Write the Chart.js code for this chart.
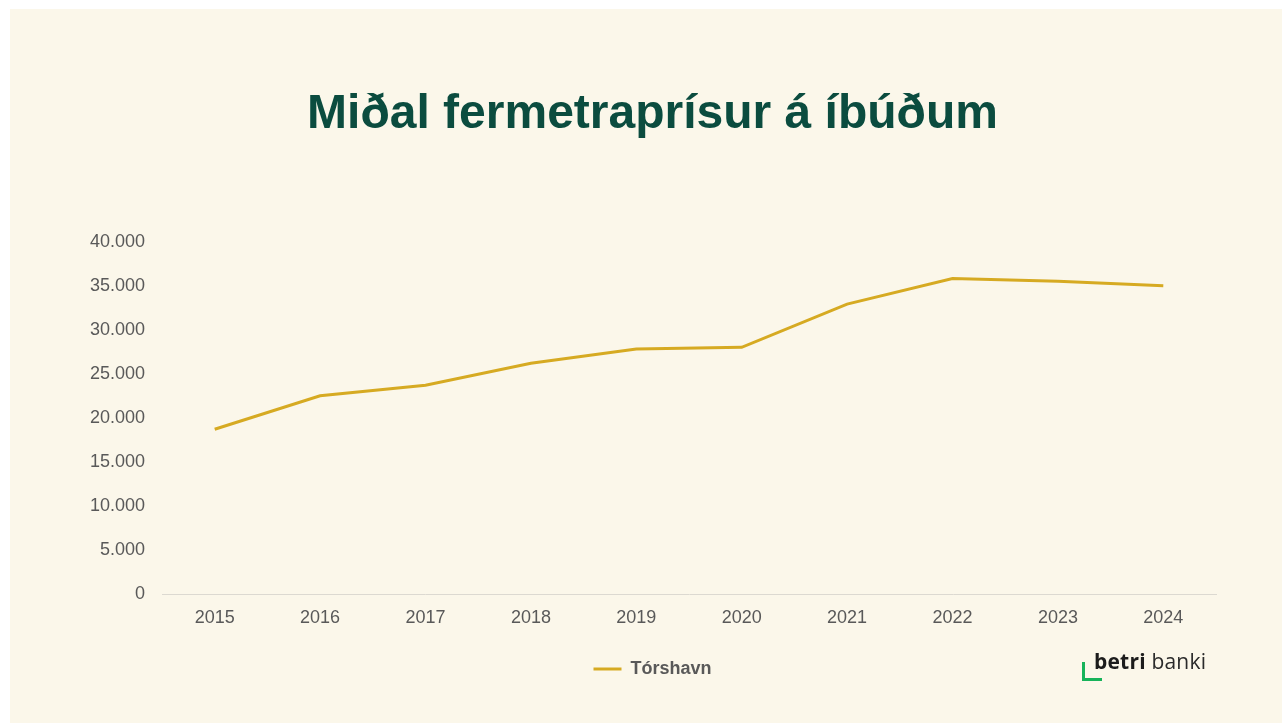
<!DOCTYPE html>
<html>
<head>
<meta charset="utf-8">
<script src="https://cdn.jsdelivr.net/npm/chart.js@4/dist/chart.umd.min.js"></script>
<style>
  html, body { margin: 0; padding: 0; background: #ffffff; }
  body { width: 1282px; height: 723px; position: relative; overflow: hidden; }
  .panel { position: absolute; left: 10px; top: 9px; width: 1272px; height: 714px; background: #fbf7ea; }
  .panel canvas { position: absolute; left: 0; top: 0; }
  .logo { position: absolute; left: 1072px; top: 641px; width: 140px; height: 44px; }
  .logo .bracket { position: absolute; left: 0; top: 12px; width: 17px; height: 16px;
    border-left: 3px solid #17b35a; border-bottom: 3px solid #17b35a; }
  .logo .word { position: absolute; left: 12px; top: -3px; font-family: "Open Sans", sans-serif;
    font-size: 21px; color: #1c1c1c; white-space: nowrap; letter-spacing: 0.2px; }
  .logo .word b { font-weight: 700; }
  .logo .word span { font-weight: 400; color: #2a2a2a; }
</style>
</head>
<body>
<div class="panel">
  <canvas id="chart" width="1272" height="714"></canvas>
  <div class="logo"><div class="bracket"></div><div class="word"><b>betri</b> <span>banki</span></div></div>
</div>
<script>
// Miðal fermetraprísur á íbúðum – Tórshavn
const years = ["2015", "2016", "2017", "2018", "2019", "2020", "2021", "2022", "2023", "2024"];
const torshavn = [18700, 22500, 23700, 26200, 27800, 28000, 32900, 35800, 35500, 35000];
const yTicks = [0, 5000, 10000, 15000, 20000, 25000, 30000, 35000, 40000];

const gold = "#d6aa22";
const tickGrey = "#595959";
const fontFamily = "'Liberation Sans', Arial, sans-serif";
const fmtDot = (v) => String(v).replace(/\B(?=(\d{3})+(?!\d))/g, ".");

new Chart(document.getElementById("chart"), {
  type: "line",
  data: {
    labels: years,
    datasets: [{
      label: "Tórshavn",
      data: torshavn,
      borderColor: gold,
      backgroundColor: gold,
      borderWidth: 3,
      pointRadius: 0,
      pointHoverRadius: 0,
      pointStyle: "line",
      tension: 0,
    }],
  },
  options: {
    responsive: false,
    animation: false,
    layout: { padding: { left: 79, right: 66, top: 0, bottom: 35 } },
    plugins: {
      title: {
        display: true,
        text: "Miðal fermetraprísur á íbúðum",
        color: "#0b4c3f",
        font: { family: fontFamily, size: 48, weight: "bold" },
        padding: { top: 77, bottom: 98 },
      },
      legend: {
        position: "bottom",
        labels: {
          color: tickGrey,
          font: { family: fontFamily, size: 18, weight: "bold" },
          usePointStyle: true,
          pointStyleWidth: 28,
          padding: 10,
        },
      },
      tooltip: { enabled: false },
    },
    scales: {
      x: {
        offset: true,
        grid: { display: false, drawTicks: false },
        border: { display: true, color: "#dcd9d1", width: 1 },
        ticks: { color: tickGrey, font: { family: fontFamily, size: 18 }, padding: 13 },
        afterFit: (s) => { s.height = 56; },
      },
      y: {
        min: 0,
        max: 40000,
        afterBuildTicks: (s) => { s.ticks = yTicks.map((v) => ({ value: v })); },
        grid: { display: false, drawTicks: false },
        border: { display: false },
        ticks: {
          color: tickGrey,
          font: { family: fontFamily, size: 18 },
          padding: 17,
          callback: (v) => fmtDot(v),
        },
        afterFit: (s) => { s.width = 73; },
      },
    },
  },
});
</script>
</body>
</html>
